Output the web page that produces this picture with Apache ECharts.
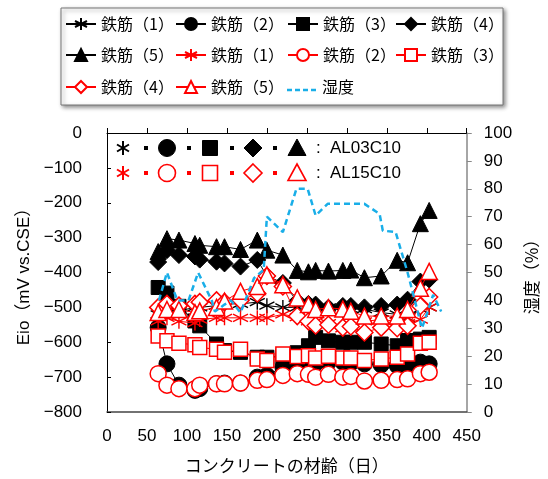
<!DOCTYPE html>
<html>
<head>
<meta charset="utf-8">
<script src="https://cdn.jsdelivr.net/npm/echarts@6/dist/echarts.min.js"></script>
<style>
html,body{margin:0;padding:0;background:#fff}
#chart{width:548px;height:479px}
</style>
</head>
<body>
<div id="chart"></div>
<script>
// Measurement ages (days) shared by all potential series
const days = [64, 75, 90, 110, 116, 137, 147, 167, 188, 200, 220, 238, 252, 261, 277, 295, 305, 322, 343, 363, 376, 392, 403];

// Half-cell potential Eio (mV vs.CSE), AL03C10 specimen
const al03_r1 = [-520, -505, -510, -500, -500, -495, -490, -490, -485, -495, -500, -500, -505, -510, -500, -510, -505, -505, -515, -520, -530, -505, -500];
const al03_r2 = [-558, -662, -723, -738, -733, -719, -717, -717, -700, -695, -671, -671, -667, -660, -657, -657, -660, -662, -665, -667, -667, -657, -662];
const al03_r3 = [-443, -459, -497, -539, -553, -605, -624, -629, -643, -643, -640, -630, -610, -586, -596, -600, -600, -600, -605, -610, -595, -591, -586];
const al03_r4 = [-370, -336, -350, -354, -363, -369, -374, -383, -364, -410, -430, -482, -490, -492, -501, -496, -496, -500, -496, -492, -478, -426, -420];
const al03_r5 = [-340, -303, -307, -317, -322, -326, -326, -334, -307, -336, -350, -394, -398, -394, -396, -394, -393, -415, -410, -365, -372, -260, -222];

// Half-cell potential Eio (mV vs.CSE), AL15C10 specimen
const al15_r1 = [-540, -530, -540, -545, -535, -530, -530, -530, -530, -530, -520, -528, -540, -540, -545, -560, -560, -540, -535, -540, -545, -535, -500];
const al15_r2 = [-690, -723, -733, -733, -723, -719, -719, -717, -709, -707, -695, -690, -692, -700, -692, -700, -698, -711, -709, -707, -705, -690, -686];
const al15_r3 = [-582, -596, -603, -607, -615, -620, -629, -620, -648, -652, -634, -641, -639, -645, -640, -645, -645, -652, -648, -643, -634, -603, -600];
const al15_r4 = [-500, -490, -495, -490, -485, -480, -485, -480, -460, -410, -440, -525, -540, -552, -550, -558, -555, -572, -558, -560, -553, -496, -470];
const al15_r5 = [-515, -506, -506, -515, -510, -500, -482, -454, -440, -407, -435, -473, -492, -506, -501, -505, -511, -525, -525, -525, -506, -445, -397];

// Relative humidity (%)
const humDays  = [65, 75, 88, 102, 114, 131, 135, 147, 155, 167, 173, 184, 196, 200, 220, 237, 251, 261, 276, 322, 341, 345, 361, 376, 394, 408, 418];
const humidity = [40, 50, 40, 40, 50, 40, 36, 38.5, 40, 35.6, 40, 48, 51, 70, 64.5, 80, 80, 70.4, 74.6, 74.6, 71, 65, 64.5, 50, 30, 42, 36];

// Axis ticks
const xTicks = [0, 50, 100, 150, 200, 250, 300, 350, 400, 450];
const eioTicks = [0, -100, -200, -300, -400, -500, -600, -700, -800];
const humTicks = [0, 10, 20, 30, 40, 50, 60, 70, 80, 90, 100];

const barNames = ['鉄筋（1）', '鉄筋（2）', '鉄筋（3）', '鉄筋（4）', '鉄筋（5）'];
const humName = '湿度';

const FONT = '"Liberation Sans","Noto Sans CJK JP",sans-serif';
const JFONT = '"Noto Sans CJK JP",sans-serif';
const RED = '#ff0000';
const BLUE = '#19aee8';
const ASTER = 'path://M10,0 L10,20 M1.34,5 L18.66,15 M1.34,15 L18.66,5';

function pairs(xs, ys) { return xs.map((x, i) => [x, ys[i]]); }

const markers = [
  { symbol: ASTER, size: 15 },
  { symbol: 'circle', size: 16 },
  { symbol: 'rect', size: 14 },
  { symbol: 'diamond', size: 17 },
  { symbol: 'triangle', size: 16 }
];

function potSeries(prefix, idx, vals, color, open) {
  const m = markers[idx];
  const aster = idx === 0;
  return {
    name: prefix + ' ' + barNames[idx],
    type: 'line',
    xAxisIndex: 0,
    yAxisIndex: 0,
    data: pairs(days, vals),
    symbol: m.symbol,
    symbolSize: m.size,
    showAllSymbol: true,
    z: open ? 3 : 2,
    lineStyle: { color: color, width: 1 },
    itemStyle: {
      color: aster ? color : (open ? '#ffffff' : color),
      borderColor: color,
      borderWidth: aster ? 1.4 : (open ? 1.5 : 1)
    },
    emphasis: { disabled: true }
  };
}

const series = [
  potSeries('AL03C10', 0, al03_r1, '#000', false),
  potSeries('AL03C10', 1, al03_r2, '#000', false),
  potSeries('AL03C10', 2, al03_r3, '#000', false),
  potSeries('AL03C10', 3, al03_r4, '#000', false),
  potSeries('AL03C10', 4, al03_r5, '#000', false),
  potSeries('AL15C10', 0, al15_r1, RED, true),
  potSeries('AL15C10', 1, al15_r2, RED, true),
  potSeries('AL15C10', 2, al15_r3, RED, true),
  potSeries('AL15C10', 3, al15_r4, RED, true),
  potSeries('AL15C10', 4, al15_r5, RED, true),
  {
    name: humName,
    type: 'line',
    xAxisIndex: 0,
    yAxisIndex: 1,
    data: pairs(humDays, humidity),
    symbol: 'none',
    z: 4,
    lineStyle: { color: BLUE, width: 2.5, type: [6, 4] },
    itemStyle: { color: BLUE },
    emphasis: { disabled: true }
  }
];

// Legend: one component per entry, laid out as a 4-column table
const colX = [65, 175, 287, 395];
const rowY = [27, 58, 90];
const legends = series.map((s, i) => {
  const isHum = s.name === humName;
  return {
    data: [isHum ? { name: s.name, icon: 'rect', itemStyle: { opacity: 0 } } : s.name],
    left: colX[i % 4],
    top: rowY[Math.floor(i / 4)] - 11,
    padding: 0,
    itemWidth: 30,
    itemHeight: 15,
    itemGap: 0,
    selectedMode: false,
    formatter: n => n.replace(/^AL\w+ /, ''),
    textStyle: { fontSize: 16, color: '#000', fontFamily: JFONT }
  };
});

// Dashed key line for the humidity legend entry
const humKey = {
  type: 'line', z: 10,
  shape: { x1: colX[2], y1: rowY[2], x2: colX[2] + 30, y2: rowY[2] },
  style: { stroke: BLUE, lineWidth: 2.5, lineDash: [5, 3] }
};

// Specimen key drawn inside the plot
function keyRow(y, color, open, label) {
  const fill = open ? '#fff' : color;
  const lw = open ? 1.6 : 1;
  const els = [];
  // asterisk
  els.push({ type: 'polyline', shape: { points: [[123, y - 7], [123, y + 7]] }, style: { stroke: color, lineWidth: 2 } });
  els.push({ type: 'polyline', shape: { points: [[117, y - 3.5], [129, y + 3.5]] }, style: { stroke: color, lineWidth: 2 } });
  els.push({ type: 'polyline', shape: { points: [[117, y + 3.5], [129, y - 3.5]] }, style: { stroke: color, lineWidth: 2 } });
  // separator dots
  [146, 189, 232, 275].forEach(x => {
    els.push({ type: 'rect', shape: { x: x - 2, y: y - 2, width: 4, height: 4 }, style: { fill: color } });
  });
  els.push({ type: 'circle', shape: { cx: 167, cy: y, r: 8.5 }, style: { fill: fill, stroke: color, lineWidth: lw } });
  els.push({ type: 'rect', shape: { x: 202.5, y: y - 7.5, width: 15, height: 15 }, style: { fill: fill, stroke: color, lineWidth: lw } });
  els.push({ type: 'polygon', shape: { points: [[253, y - 9], [262, y], [253, y + 9], [244, y]] }, style: { fill: fill, stroke: color, lineWidth: lw } });
  els.push({ type: 'polygon', shape: { points: [[297, y - 9], [306, y + 7.5], [288, y + 7.5]] }, style: { fill: fill, stroke: color, lineWidth: lw } });
  els.push({ type: 'text', x: 316, y: y, style: { text: ':', fill: '#000', font: '17px ' + FONT, verticalAlign: 'middle' } });
  els.push({ type: 'text', x: 330, y: y, style: { text: label, fill: '#000', font: '17px ' + FONT, verticalAlign: 'middle' } });
  return els;
}

const chart = echarts.init(document.getElementById('chart'), null, { renderer: 'canvas' });

chart.setOption({
  animation: false,
  backgroundColor: '#fff',
  textStyle: { fontFamily: FONT },
  grid: { left: 107, top: 133, width: 367, height: 282, containLabel: false },
  legend: legends,
  xAxis: [
    {
      type: 'value', position: 'top', min: xTicks[0], max: xTicks[xTicks.length - 1], interval: 50,
      axisLine: { show: true, onZero: false, lineStyle: { color: '#000', width: 1 } },
      axisTick: { show: true, inside: false, length: 5, lineStyle: { color: '#000' } },
      axisLabel: { show: false },
      splitLine: { show: false }
    },
    {
      type: 'value', position: 'bottom', min: xTicks[0], max: xTicks[xTicks.length - 1], interval: 50,
      axisLine: { show: true, onZero: false, lineStyle: { color: '#444', width: 1.5 } },
      axisTick: { show: false },
      axisLabel: { show: true, fontSize: 17, color: '#000', margin: 16, fontFamily: FONT },
      splitLine: { show: false },
      name: 'コンクリートの材齢（日）',
      nameLocation: 'middle',
      nameGap: 45,
      nameTextStyle: { fontSize: 17, color: '#000', fontFamily: JFONT }
    }
  ],
  yAxis: [
    {
      type: 'value', position: 'left', min: eioTicks[eioTicks.length - 1], max: eioTicks[0], interval: 100,
      axisLine: { show: true, onZero: false, lineStyle: { color: '#000', width: 1 } },
      axisTick: { show: true, inside: true, length: 4, lineStyle: { color: '#000' } },
      axisLabel: { fontSize: 17, color: '#000', margin: 25, fontFamily: FONT, formatter: v => String(v).replace('-', '−') },
      splitLine: { show: false },
      name: 'Eio（mV vs.CSE）',
      nameLocation: 'middle',
      nameRotate: 90,
      nameGap: 74,
      nameTextStyle: { fontSize: 17, color: '#000', fontFamily: FONT }
    },
    {
      type: 'value', position: 'right', min: humTicks[0], max: humTicks[humTicks.length - 1], interval: 10,
      axisLine: { show: true, onZero: false, lineStyle: { color: '#888', width: 1.5 } },
      axisTick: { show: true, inside: false, length: 5, lineStyle: { color: '#888' } },
      axisLabel: { fontSize: 17, color: '#000', margin: 17, fontFamily: FONT },
      splitLine: { show: false },
      name: humName + '（%）',
      nameLocation: 'middle',
      nameRotate: 90,
      nameGap: 50,
      nameTextStyle: { fontSize: 17, color: '#000', fontFamily: JFONT }
    }
  ],
  graphic: [
    {
      type: 'rect', z: 0,
      shape: { x: 61, y: 8, width: 442, height: 97 },
      style: { fill: '#fff', stroke: '#777', lineWidth: 1, shadowBlur: 4, shadowOffsetX: 2, shadowOffsetY: 2, shadowColor: 'rgba(0,0,0,0.45)' }
    },
    humKey,
    ...keyRow(148, '#000', false, 'AL03C10'),
    ...keyRow(173, RED, true, 'AL15C10')
  ],
  series: series
});
</script>
</body>
</html>
